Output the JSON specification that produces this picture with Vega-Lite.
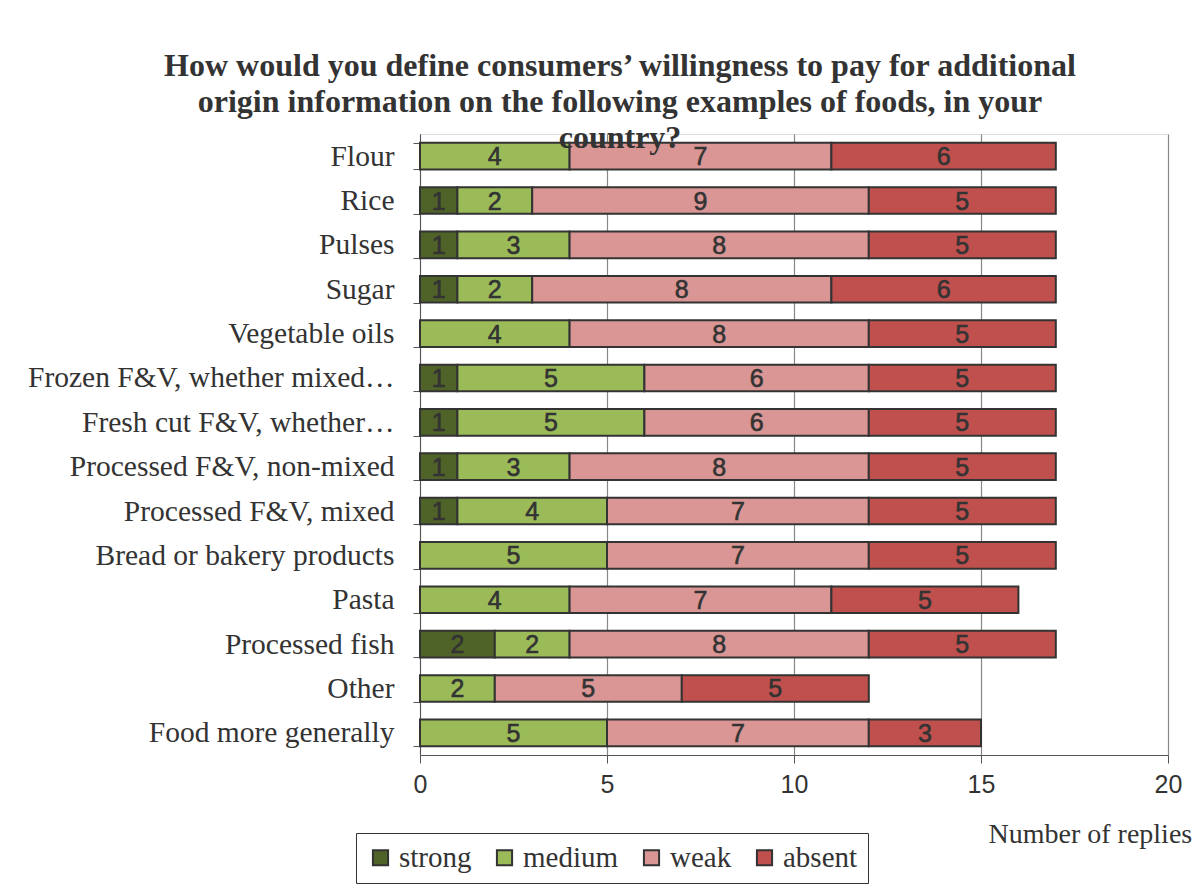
{
  "$schema": "https://vega.github.io/schema/vega-lite/v6.json",
  "width": 748,
  "height": 621,
  "autosize": {"type": "none"},
  "padding": {"left": 420, "top": 134, "right": 28, "bottom": 134},
  "background": "white",
  "title": {
    "text": ["How would you define consumers’ willingness to pay for additional", "origin information on the following examples of foods, in your", "country?"],
    "font": "Liberation Serif",
    "fontSize": 32,
    "fontWeight": "bold",
    "color": "#333333",
    "lineHeight": 36,
    "anchor": "middle",
    "frame": "group",
    "dx": -174,
    "offset": -36
  },
  "data": {
    "values": [
      {"item": "Flour", "level": "strong", "value": 0},
      {"item": "Flour", "level": "medium", "value": 4},
      {"item": "Flour", "level": "weak", "value": 7},
      {"item": "Flour", "level": "absent", "value": 6},
      {"item": "Rice", "level": "strong", "value": 1},
      {"item": "Rice", "level": "medium", "value": 2},
      {"item": "Rice", "level": "weak", "value": 9},
      {"item": "Rice", "level": "absent", "value": 5},
      {"item": "Pulses", "level": "strong", "value": 1},
      {"item": "Pulses", "level": "medium", "value": 3},
      {"item": "Pulses", "level": "weak", "value": 8},
      {"item": "Pulses", "level": "absent", "value": 5},
      {"item": "Sugar", "level": "strong", "value": 1},
      {"item": "Sugar", "level": "medium", "value": 2},
      {"item": "Sugar", "level": "weak", "value": 8},
      {"item": "Sugar", "level": "absent", "value": 6},
      {"item": "Vegetable oils", "level": "strong", "value": 0},
      {"item": "Vegetable oils", "level": "medium", "value": 4},
      {"item": "Vegetable oils", "level": "weak", "value": 8},
      {"item": "Vegetable oils", "level": "absent", "value": 5},
      {"item": "Frozen F&V, whether mixed…", "level": "strong", "value": 1},
      {"item": "Frozen F&V, whether mixed…", "level": "medium", "value": 5},
      {"item": "Frozen F&V, whether mixed…", "level": "weak", "value": 6},
      {"item": "Frozen F&V, whether mixed…", "level": "absent", "value": 5},
      {"item": "Fresh cut F&V, whether…", "level": "strong", "value": 1},
      {"item": "Fresh cut F&V, whether…", "level": "medium", "value": 5},
      {"item": "Fresh cut F&V, whether…", "level": "weak", "value": 6},
      {"item": "Fresh cut F&V, whether…", "level": "absent", "value": 5},
      {"item": "Processed F&V, non-mixed", "level": "strong", "value": 1},
      {"item": "Processed F&V, non-mixed", "level": "medium", "value": 3},
      {"item": "Processed F&V, non-mixed", "level": "weak", "value": 8},
      {"item": "Processed F&V, non-mixed", "level": "absent", "value": 5},
      {"item": "Processed F&V, mixed", "level": "strong", "value": 1},
      {"item": "Processed F&V, mixed", "level": "medium", "value": 4},
      {"item": "Processed F&V, mixed", "level": "weak", "value": 7},
      {"item": "Processed F&V, mixed", "level": "absent", "value": 5},
      {"item": "Bread or bakery products", "level": "strong", "value": 0},
      {"item": "Bread or bakery products", "level": "medium", "value": 5},
      {"item": "Bread or bakery products", "level": "weak", "value": 7},
      {"item": "Bread or bakery products", "level": "absent", "value": 5},
      {"item": "Pasta", "level": "strong", "value": 0},
      {"item": "Pasta", "level": "medium", "value": 4},
      {"item": "Pasta", "level": "weak", "value": 7},
      {"item": "Pasta", "level": "absent", "value": 5},
      {"item": "Processed fish", "level": "strong", "value": 2},
      {"item": "Processed fish", "level": "medium", "value": 2},
      {"item": "Processed fish", "level": "weak", "value": 8},
      {"item": "Processed fish", "level": "absent", "value": 5},
      {"item": "Other", "level": "strong", "value": 0},
      {"item": "Other", "level": "medium", "value": 2},
      {"item": "Other", "level": "weak", "value": 5},
      {"item": "Other", "level": "absent", "value": 5},
      {"item": "Food more generally", "level": "strong", "value": 0},
      {"item": "Food more generally", "level": "medium", "value": 5},
      {"item": "Food more generally", "level": "weak", "value": 7},
      {"item": "Food more generally", "level": "absent", "value": 3}
    ]
  },
  "transform": [
    {"filter": "datum.value > 0"},
    {"calculate": "indexof(['strong','medium','weak','absent'], datum.level)", "as": "ord"},
    {"stack": "value", "groupby": ["item"], "sort": [{"field": "ord", "order": "ascending"}], "as": ["x0", "x1"]},
    {"calculate": "(datum.x0 + datum.x1) / 2", "as": "xm"}
  ],
  "encoding": {
    "y": {
      "field": "item",
      "type": "nominal",
      "sort": null,
      "scale": {"paddingInner": 0.4, "paddingOuter": 0.2},
      "axis": {
        "title": null,
        "labelFont": "Liberation Serif",
        "labelFontSize": 29.5,
        "labelColor": "#333333",
        "labelLimit": 400,
        "labelPadding": 19,
        "tickBand": "extent",
        "tickSize": 7,
        "tickColor": "#555555",
        "domainColor": "#555555",
        "grid": false
      }
    }
  },
  "layer": [
    {
      "mark": {"type": "bar", "stroke": "#333333", "strokeWidth": 2},
      "encoding": {
        "x": {
          "field": "x0",
          "type": "quantitative",
          "scale": {"domain": [0, 20]},
          "axis": {
            "values": [0, 5, 10, 15, 20],
            "title": "Number of replies",
            "titleFont": "Liberation Serif",
            "titleFontSize": 28,
            "titleFontWeight": "normal",
            "titleColor": "#333333",
            "titleAlign": "left",
            "titleAnchor": null,
            "titleX": 568,
            "titleY": 87,
            "titleBaseline": "alphabetic",
            "labelFont": "Liberation Sans",
            "labelFontSize": 25,
            "labelColor": "#333333",
            "labelPadding": 9,
            "labelFlush": false,
            "tickSize": 8,
            "tickColor": "#555555",
            "domainColor": "#555555",
            "grid": true,
            "gridColor": "#888888",
            "gridWidth": 1.2
          }
        },
        "x2": {"field": "x1"},
        "color": {
          "field": "level",
          "type": "nominal",
          "scale": {
            "domain": ["strong", "medium", "weak", "absent"],
            "range": ["#4f6228", "#9bbb59", "#d99694", "#c0504d"]
          },
          "legend": {
            "title": null,
            "orient": "none",
            "legendX": -64,
            "legendY": 699,
            "direction": "horizontal",
            "strokeColor": "#333333",
            "padding": 10,
            "symbolType": "square",
            "symbolSize": 230,
            "symbolStrokeColor": "#333333",
            "symbolStrokeWidth": 2,
            "symbolOpacity": 1,
            "labelFont": "Liberation Serif",
            "labelFontSize": 29,
            "labelColor": "#333333",
            "labelOffset": 4,
            "columnPadding": 18
          }
        }
      }
    },
    {
      "mark": {"type": "text", "font": "Liberation Sans", "fontSize": 25, "color": "#333333", "stroke": "#333333", "strokeWidth": 0.6, "baseline": "middle", "dy": 1},
      "encoding": {
        "x": {"field": "xm", "type": "quantitative"},
        "text": {"field": "value", "type": "quantitative"}
      }
    }
  ]
}
